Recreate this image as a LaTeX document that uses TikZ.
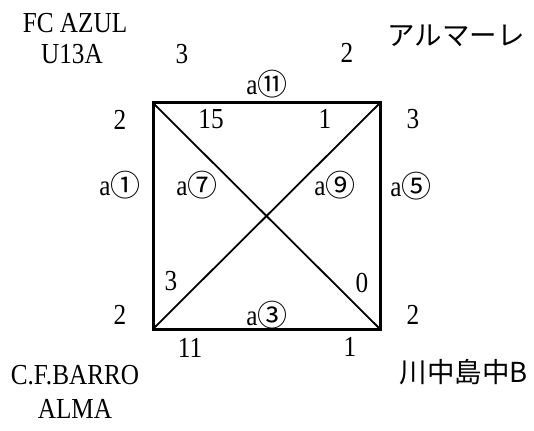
\documentclass[tikz,border=0pt]{standalone}
\usepackage{fontspec}
\setmainfont[FakeStretch=0.87]{Liberation Serif}
\newfontfamily\cjk{Noto Sans CJK JP}
\newcommand{\cnum}[1]{{\cjk\fontsize{30pt}{30pt}\selectfont\raisebox{-0.5pt}{#1}}}
\begin{document}
\begin{tikzpicture}[x=1pt,y=-1pt,
  lbl/.style={inner sep=0pt,font=\fontsize{29pt}{31pt}\selectfont},
  jlbl/.style={inner sep=0pt,font=\cjk\fontsize{27.5pt}{30pt}\selectfont},
  sq/.style={line width=3pt},
  diag/.style={line width=1.8pt}]
\useasboundingbox (0,0) rectangle (534,430);
\coordinate (tl) at (153,103);
\coordinate (tr) at (380,103);
\coordinate (bl) at (153,329);
\coordinate (br) at (380,329);
\draw[diag] (tl) -- (br);
\draw[diag] (tr) -- (bl);
\draw[sq] (tl) -- (tr) -- (br) -- (bl) -- cycle;
% team names
\node[lbl] (n1a) at (75,23) {FC AZUL};
\node[lbl] (n1b) at (72,54) {U13A};
\node[jlbl] (n2) at (456,36) {アルマーレ};
\node[lbl] (n3a) at (75,375) {C.F.BARRO};
\node[lbl] (n3b) at (75,409) {ALMA};
\node[jlbl] (n4) at (464,372) {川中島中B};
% scores
\node[lbl] (s1) at (182,54) {3};
\node[lbl] (s2) at (347,53) {2};
\node[lbl] (s3) at (211,119) {15};
\node[lbl] (s4) at (325,119) {1};
\node[lbl] (s5) at (120,120) {2};
\node[lbl] (s6) at (413,119) {3};
\node[lbl] (s7) at (171,281) {3};
\node[lbl] (s8) at (362,283) {0};
\node[lbl] (s9) at (120,315) {2};
\node[lbl] (s10) at (413,315) {2};
\node[lbl] (s11) at (190,348) {11};
\node[lbl] (s12) at (350,347) {1};
% match labels
\node[lbl] (m11) at (267,84) {a\cnum{⑪}};
\node[lbl] (m1) at (120,185) {a\cnum{①}};
\node[lbl] (m7) at (197,185) {a\cnum{⑦}};
\node[lbl] (m9) at (335,185) {a\cnum{⑨}};
\node[lbl] (m5) at (411,186) {a\cnum{⑤}};
\node[lbl] (m3) at (267,315) {a\cnum{③}};
\end{tikzpicture}
\end{document}
